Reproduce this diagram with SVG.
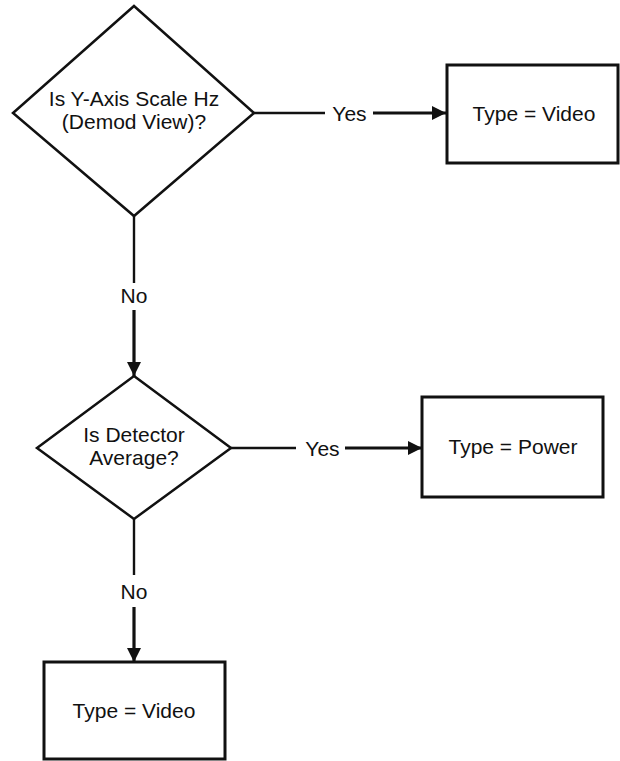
<svg xmlns="http://www.w3.org/2000/svg" width="620" height="761" viewBox="0 0 620 761">
<style>
  .shape { fill: #ffffff; stroke: #111111; stroke-width: 2.5; }
  .box { fill: #ffffff; stroke: #111111; stroke-width: 3; }
  .txt { font-family: "Liberation Sans", Arial, sans-serif; font-size: 21px; fill: #111111; text-anchor: middle; }
  .conn { stroke: #111111; stroke-width: 2.4; fill: none; }
  .conn-arrow { stroke: #111111; stroke-width: 3.2; fill: none; }
</style>
<defs>
  <marker id="arrow" viewBox="0 0 14 14" refX="14" refY="7" markerWidth="14" markerHeight="14" markerUnits="userSpaceOnUse" orient="auto">
    <path d="M0,0 L14,7 L0,14 z" fill="#111111"/>
  </marker>
</defs>
<rect width="620" height="761" fill="#ffffff"/>
<g id="connectors">
  <line class="conn" x1="254" y1="113" x2="325" y2="113"/>
  <line class="conn-arrow" x1="373" y1="113" x2="446" y2="113" marker-end="url(#arrow)"/>
  <text class="txt" x="349.5" y="120.5">Yes</text>
  <line class="conn" x1="134" y1="216" x2="134" y2="283"/>
  <line class="conn-arrow" x1="134" y1="310" x2="134" y2="376" marker-end="url(#arrow)"/>
  <text class="txt" x="134" y="302.5">No</text>
  <line class="conn" x1="231" y1="448" x2="296" y2="448"/>
  <line class="conn-arrow" x1="345" y1="448" x2="422" y2="448" marker-end="url(#arrow)"/>
  <text class="txt" x="322.5" y="455.5">Yes</text>
  <line class="conn" x1="134" y1="519" x2="134" y2="575"/>
  <line class="conn-arrow" x1="134" y1="607" x2="134" y2="662" marker-end="url(#arrow)"/>
  <text class="txt" x="134" y="598.5">No</text>
</g>
<g id="decision1">
  <polygon class="shape" points="134,6 254,113 134,216 13,113"/>
  <text class="txt" x="134" y="106">Is Y-Axis Scale Hz</text>
  <text class="txt" x="134" y="128.5">(Demod View)?</text>
</g>
<g id="result-video-1">
  <rect class="box" x="447" y="65" width="171" height="98"/>
  <text class="txt" x="534" y="121">Type = Video</text>
</g>
<g id="decision2">
  <polygon class="shape" points="134,376 231,448 134,519 37,448"/>
  <text class="txt" x="134" y="442">Is Detector</text>
  <text class="txt" x="134" y="465">Average?</text>
</g>
<g id="result-power">
  <rect class="box" x="422" y="397" width="181" height="100"/>
  <text class="txt" x="513" y="454">Type = Power</text>
</g>
<g id="result-video-2">
  <rect class="box" x="44" y="662" width="181" height="97"/>
  <text class="txt" x="134" y="718">Type = Video</text>
</g>
</svg>
